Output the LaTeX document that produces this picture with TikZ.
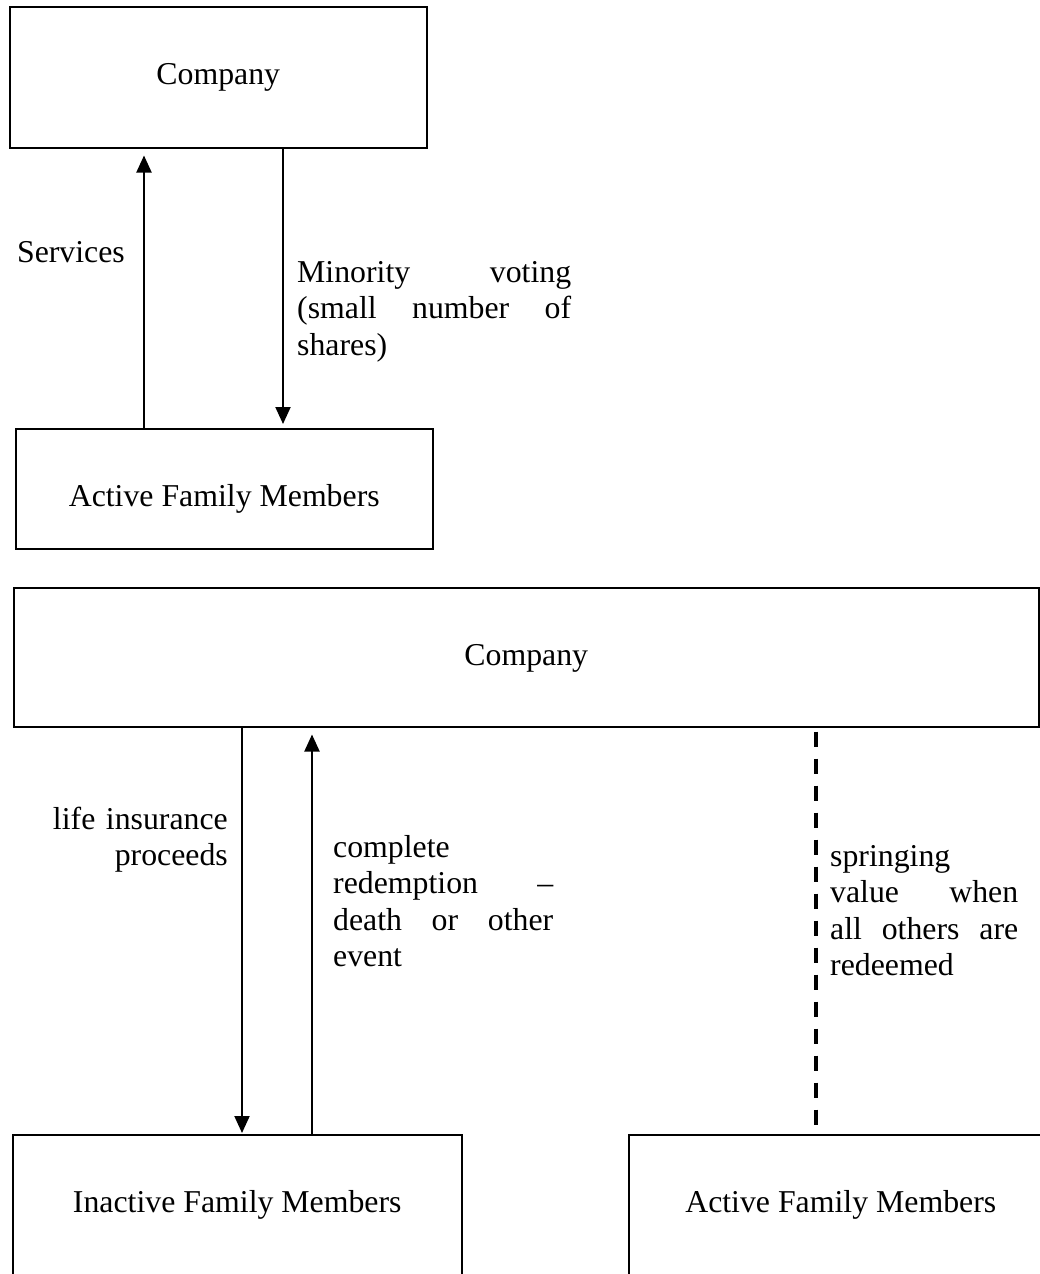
\documentclass[tikz,border=0pt]{standalone}
\usepackage{fontspec}
\setmainfont{Liberation Serif}
\usetikzlibrary{arrows.meta}

\begin{document}
\begin{tikzpicture}[x=1pt,y=-1pt,
  txt/.style={font=\fontsize{31.8}{36.6}\selectfont, inner sep=0pt},
  box/.style={txt, draw, line width=1.5pt, align=center, text height=78pt, anchor=north west},
  note/.style={txt, align=left, anchor=base west},
  flow/.style={line width=2pt, -{Triangle[length=17pt,width=15pt]}},
  link/.style={line width=2pt},
  spring/.style={line width=4pt, dash pattern=on 15pt off 12pt}]

\useasboundingbox (0,0) rectangle (1040,1274);
\clip (0,0) rectangle (1040,1274);

% upper arrangement
\node[box, minimum width=417pt, text depth=63pt] (company1) at (9,6) {Company};
\node[box, minimum width=417pt, text depth=42pt] (active1) at (15,428) {Active Family Members};

\coordinate (xserv) at (144,0);
\coordinate (xvote) at (283,0);
\draw[flow, shorten >=7pt] (active1.north -| xserv) -- (company1.south -| xserv);
\draw[flow, shorten >=4pt] (company1.south -| xvote) -- (active1.north -| xvote);

\node[txt, anchor=base east] (services) at (125,262) {Services};
\node[note, text width=274pt] (minority) at (297,282)
  {Minority\hfill voting\\(small\hfill number\hfill of\\shares)};

% lower arrangement
\node[box, minimum width=1025pt, text depth=61pt] (company2) at (13,587) {Company};
\node[box, minimum width=449pt, text depth=200pt] (inactive) at (12,1134) {Inactive Family Members};
\node[box, minimum width=424pt, text depth=200pt] (active2) at (628,1134) {Active Family Members};

\coordinate (xlife) at (242,0);
\coordinate (xredeem) at (312,0);
\coordinate (xspring) at (816,0);
\draw[flow, shorten >=1pt] (company2.south -| xlife) -- (inactive.north -| xlife);
\draw[flow, shorten >=7pt] (inactive.north -| xredeem) -- (company2.south -| xredeem);
\draw[spring, shorten <=4pt, shorten >=6pt] (company2.south -| xspring) -- (active2.north -| xspring);

\node[txt, align=right, text width=180pt, anchor=base east] (life) at (228,829)
  {life insurance\\proceeds};
\node[note, text width=220pt] (redeem) at (333,857)
  {complete\\redemption\hfill –\\death\hfill or\hfill other\\event};
\node[note, text width=188pt] (springing) at (830,866)
  {springing\\value\hfill when\\all\hfill others\hfill are\\redeemed};
\end{tikzpicture}
\end{document}
